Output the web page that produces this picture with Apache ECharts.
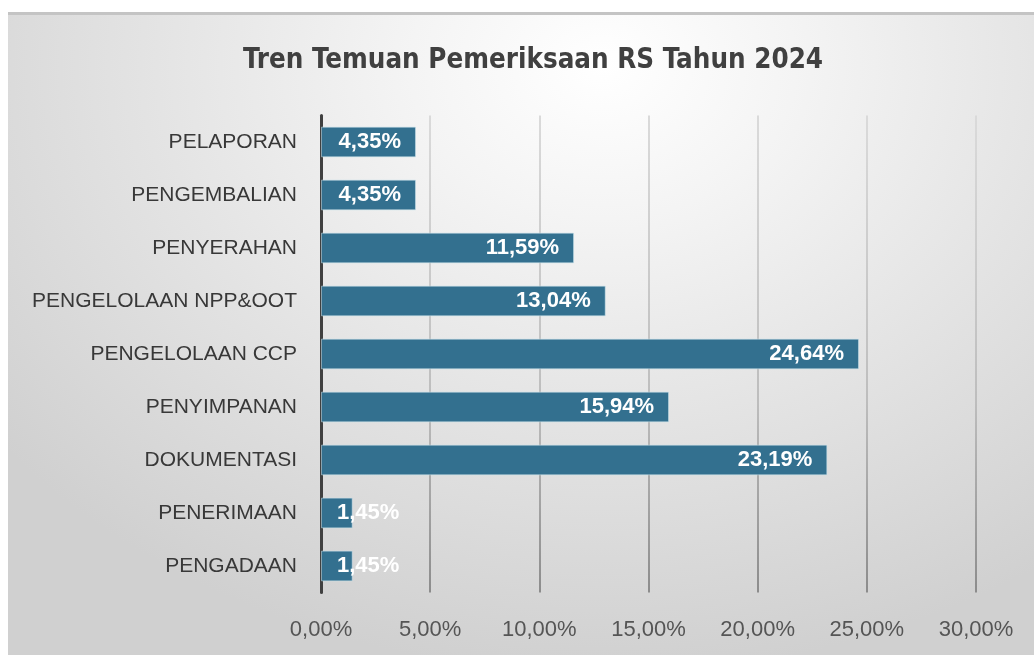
<!DOCTYPE html>
<html>
<head>
<meta charset="utf-8">
<script src="https://cdn.jsdelivr.net/npm/echarts@6/dist/echarts.min.js"></script>
<style>
  html, body { margin: 0; padding: 0; background: #ffffff; width: 1034px; height: 655px; overflow: hidden; }
  #bg {
    position: absolute; left: 8px; top: 12px; width: 1026px; height: 643px;
    border-top: 3px solid #c4c4c4; box-sizing: border-box;
    background: radial-gradient(ellipse 75% 95% at 58% 8%, #ffffff 0%, #f4f4f4 25%, #e3e3e3 60%, #d0d0d0 100%);
  }
  #chart { position: absolute; left: 0; top: 0; width: 1034px; height: 655px; }
</style>
</head>
<body>
<div id="bg"></div>
<div id="chart"></div>
<script>
const titleText = 'Tren Temuan Pemeriksaan RS Tahun 2024';
const categories = ['PELAPORAN', 'PENGEMBALIAN', 'PENYERAHAN', 'PENGELOLAAN NPP&OOT', 'PENGELOLAAN CCP', 'PENYIMPANAN', 'DOKUMENTASI', 'PENERIMAAN', 'PENGADAAN'];
const values = [4.35, 4.35, 11.59, 13.04, 24.64, 15.94, 23.19, 1.45, 1.45];
const axisMin = 0, axisMax = 30, axisStep = 5;

const fmt = v => v.toFixed(2).replace('.', ',') + '%';

const chart = echarts.init(document.getElementById('chart'), null, { renderer: 'canvas' });
chart.setOption({
  backgroundColor: 'transparent',
  animation: false,
  title: {
    text: titleText,
    left: 528, top: 42, textAlign: 'center',
    textStyle: { fontFamily: '"Liberation Sans Narrow", "DejaVu Sans Condensed", sans-serif', fontWeight: 'bold', fontSize: 27.5, color: '#404040' }
  },
  grid: { left: 321, top: 115.5, width: 655, height: 477, containLabel: false },
  xAxis: {
    type: 'value', min: axisMin, max: axisMax, interval: axisStep,
    axisLine: { show: false }, axisTick: { show: false },
    axisLabel: { formatter: v => fmt(v), fontFamily: '"Liberation Sans", Arial, sans-serif', fontSize: 22, color: '#555555', margin: 26 },
    splitLine: { show: true, lineStyle: { width: 2, color: new echarts.graphic.LinearGradient(0, 116, 0, 593, [{ offset: 0, color: '#dadada' }, { offset: 0.6, color: '#bdbdbd' }, { offset: 1, color: '#8c8c8c' }], true) } }
  },
  yAxis: {
    type: 'category', data: categories, inverse: true,
    axisLine: { show: true, lineStyle: { color: '#404040', width: 3 } },
    axisTick: { show: false },
    axisLabel: { fontFamily: '"Liberation Sans", Arial, sans-serif', fontSize: 21, color: '#383838', margin: 24 }
  },
  series: [{
    type: 'bar',
    data: values.map(v => ({
      value: v,
      label: v < 3 ? { position: 'insideLeft', distance: 16 } : { position: 'insideRight', distance: 15 }
    })),
    barCategoryGap: '42%',
    itemStyle: { color: '#33708F', borderColor: 'rgba(200,225,235,0.55)', borderWidth: 1 },
    label: {
      show: true,
      formatter: p => fmt(p.value),
      fontFamily: '"Liberation Sans", Arial, sans-serif', fontWeight: 'bold', fontSize: 22, color: '#ffffff'
    }
  }]
});
</script>
</body>
</html>
